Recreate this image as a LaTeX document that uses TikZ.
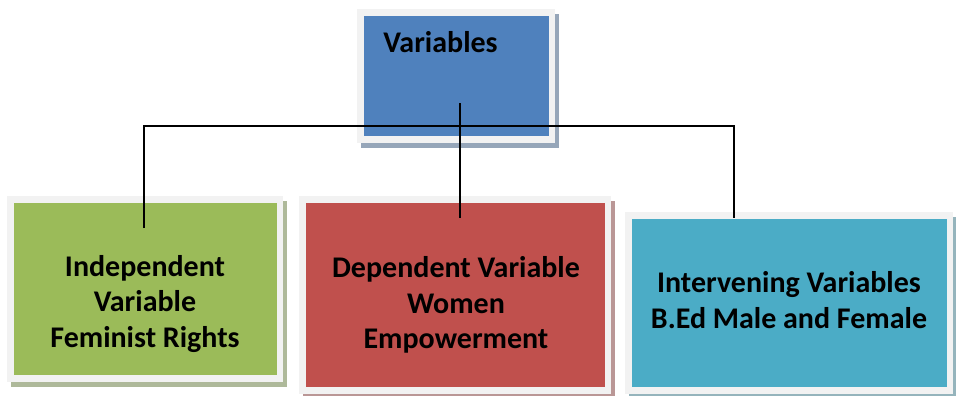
\documentclass[tikz,border=0pt]{standalone}
\usepackage{fontspec}
\setmainfont{Carlito}
\usetikzlibrary{backgrounds}
\definecolor{varblue}{HTML}{4F81BD}
\definecolor{vargreen}{HTML}{9BBB59}
\definecolor{varred}{HTML}{C0504D}
\definecolor{varteal}{HTML}{4BACC6}
\definecolor{framegray}{HTML}{F2F2F2}

\begin{document}
\begin{tikzpicture}[x=1pt,y=-1pt,thick,
    varbox/.style = {fill=#1, inner sep=0pt},
    boxtext/.style = {font=\bfseries\fontsize{30}{35.5}\selectfont, align=center, inner sep=0pt},
    connector/.style = {draw=black, line width=1.6pt}]
      \useasboundingbox (0,0) rectangle (956,396);

      \node[varbox=varblue, minimum width=185pt, minimum height=120pt] (var) at (456.5,76) {};
      \node[varbox=vargreen, minimum width=263pt, minimum height=172pt] (ind) at (145.5,289) {};
      \node[varbox=varred, minimum width=299pt, minimum height=184pt] (dep) at (455.5,295) {};
      \node[varbox=varteal, minimum width=315pt, minimum height=168pt] (inter) at (789.5,303) {};

      \node[boxtext, anchor=base west] (vartext) at (383,53) {Variables};
      \node[boxtext] (indtext) at (145,304) {Independent\\Variable\\Feminist Rights};
      \node[boxtext] (deptext) at (456,305) {Dependent Variable\\Women\\Empowerment};
      \node[boxtext] (intertext) at (789,300) {Intervening Variables\\B.Ed Male and Female};

      % white frames with a soft shadow behind each box
      \begin{scope}[on background layer]
        \foreach \n/\c in {var/varblue, ind/vargreen, dep/varred, inter/varteal} {
          \fill[\c!45!gray!70!white] ([shift={(-3,-2)}]\n.north west) rectangle ([shift={(10,12)}]\n.south east);
          \fill[framegray] ([shift={(-7,-7)}]\n.north west) rectangle ([shift={(6,7)}]\n.south east);
        }
      \end{scope}

      \coordinate (vartip) at (460,103);
      \coordinate (deptip) at (460,218);
      \coordinate (indtip) at (144,228);
      \coordinate (intertip) at (734,218);
      \coordinate (bus) at (460,126);

      \draw[connector] (vartip) -- (deptip);
      \draw[connector] (indtip) |- (bus) -| (intertip);
    \end{tikzpicture}
\end{document}
